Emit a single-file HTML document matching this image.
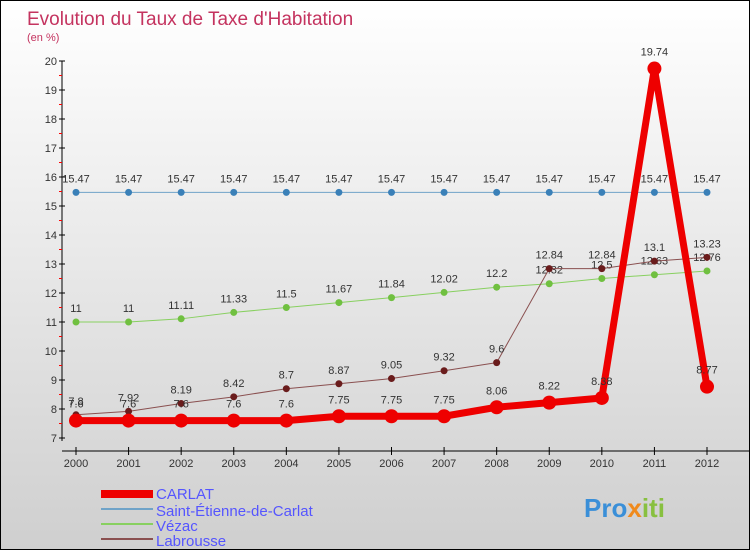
<!DOCTYPE html>
<html><head><meta charset="utf-8"><style>
body{margin:0}
#c{width:750px;height:550px;position:relative;overflow:hidden;box-sizing:border-box;border:1px solid #000;background:linear-gradient(#ffffff,#cfcfcf);font-family:"Liberation Sans",sans-serif}
</style></head><body>
<div id="c">
<svg id="s" width="750" height="550" style="position:absolute;left:0;top:0">
<text x="26" y="24" font-size="19" fill="#c4335f">Evolution du Taux de Taxe d'Habitation</text>
<text x="26" y="40" font-size="11" fill="#c4335f">(en %)</text>
<g id="axes"></g><g id="series"></g>
<g>
<rect x="100" y="489" width="52" height="8" fill="#ee0000"/>
<text x="155" y="498" font-size="15" fill="#5555ff">CARLAT</text>
<rect x="100" y="507" width="52" height="2" fill="#6fa3c8"/>
<text x="155" y="515" font-size="15" fill="#5555ff">Saint-Étienne-de-Carlat</text>
<rect x="100" y="522" width="52" height="2" fill="#88d060"/>
<text x="155" y="530" font-size="15" fill="#5555ff">Vézac</text>
<rect x="100" y="537" width="52" height="2" fill="#8a5050"/>
<text x="155" y="545" font-size="15" fill="#5555ff">Labrousse</text>
</g>
<text x="583" y="516" font-size="26" font-weight="bold" fill="#3a8fd8">Pro<tspan fill="#f08a1c">x</tspan><tspan fill="#88c040">iti</tspan></text>
</svg>
</div>
<script>
const years=[2000,2001,2002,2003,2004,2005,2006,2007,2008,2009,2010,2011,2012];
const carlat=[7.6,7.6,7.6,7.6,7.6,7.75,7.75,7.75,8.06,8.22,8.38,19.74,8.77];
const saintEtienne=[15.47,15.47,15.47,15.47,15.47,15.47,15.47,15.47,15.47,15.47,15.47,15.47,15.47];
const vezac=[11,11,11.11,11.33,11.5,11.67,11.84,12.02,12.2,12.32,12.5,12.63,12.76];
const labrousse=[7.8,7.92,8.19,8.42,8.7,8.87,9.05,9.32,9.6,12.84,12.84,13.1,13.23];
const yTicks=[7,8,9,10,11,12,13,14,15,16,17,18,19,20];
const NS="http://www.w3.org/2000/svg";
const X=i=>75+i*(706-75)/(years.length-1);
const Y=v=>60+(20-v)*29;
function mk(p,t,a){const e=document.createElementNS(NS,t);for(const k in a)e.setAttribute(k,a[k]);p.appendChild(e);return e;}
const ax=document.getElementById('axes'),sg=document.getElementById('series');
let l=mk(ax,'line',{x1:61,y1:60,x2:61,y2:440,stroke:'#000','stroke-width':1});


l=mk(ax,'line',{x1:61,y1:450,x2:750,y2:450,stroke:'#000','stroke-width':1});


yTicks.forEach(v=>{
 mk(ax,'line',{x1:58,y1:Y(v),x2:64,y2:Y(v),stroke:'#000'});
 if(v<20)mk(ax,'line',{x1:58,y1:Y(v+0.5),x2:61,y2:Y(v+0.5),stroke:'#f00'});
 const t=mk(ax,'text',{x:56,y:Y(v)+4,'font-size':11,fill:'#333','text-anchor':'end'});t.textContent=v;
 
 
});
years.forEach((y,i)=>{
 mk(ax,'line',{x1:X(i),y1:446,x2:X(i),y2:454,stroke:'#000'});
 const t=mk(ax,'text',{x:X(i),y:466,'font-size':11,fill:'#333','text-anchor':'middle'});t.textContent=y;
 
 
});
function draw(data,name,color,w,r,dot,dy){
 const g=mk(sg,'g',{});
 
 
 mk(g,'polyline',{points:data.map((v,i)=>X(i)+','+Y(v)).join(' '),fill:'none',stroke:color,'stroke-width':w,'stroke-linejoin':'round'});
 data.forEach((v,i)=>{
  const c=mk(g,'circle',{cx:X(i),cy:Y(v),r:r,fill:dot});
  
  
  const t=mk(g,'text',{x:X(i),y:Y(v)+dy,'font-size':11,fill:'#333','text-anchor':'middle'});t.textContent=v;
  
  
 });
}
draw(saintEtienne,'saint-etienne','#6fa3c8',1,3.5,'#3a80b8',-10);
draw(vezac,'vezac','#88d060',1,3.5,'#70c040',-10);
draw(labrousse,'labrousse','#8a5050',1,3.5,'#6a1c1c',-10);
draw(carlat,'carlat','#ee0000',7,7,'#ee0000',-13);
</script>
</body></html>
